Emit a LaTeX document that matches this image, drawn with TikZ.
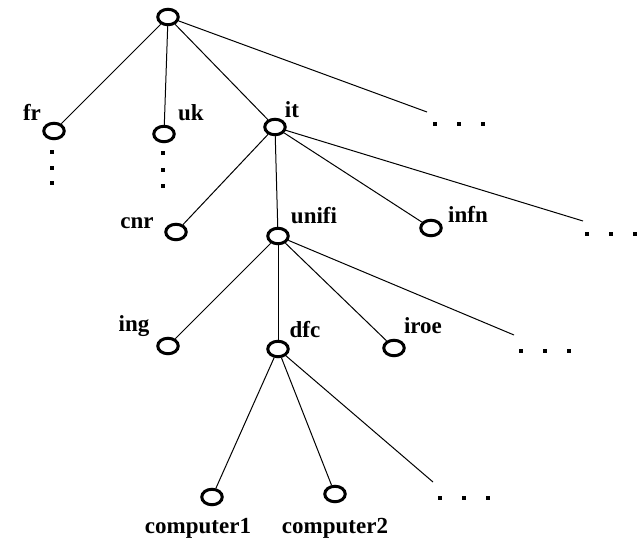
\documentclass[tikz,border=0pt]{standalone}
\usepackage{fontspec}
\setmainfont{Liberation Serif}
\usetikzlibrary{shapes.geometric}
\begin{document}
\begin{tikzpicture}[x=1pt,y=-1pt,
  vertex/.style={draw, ellipse, line width=3pt, minimum width=20.5pt, minimum height=15.5pt, inner sep=0pt},
  lbl/.style={anchor=base, font=\fontsize{23}{25}\selectfont\bfseries, inner sep=0pt},
  edge/.style={line width=1pt},
  dotbox/.style={fill, rectangle, minimum size=3.4pt, inner sep=0pt}]
\useasboundingbox (0,0) rectangle (641,539);
% nodes
\node[vertex] (root) at (168,17) {};
\node[vertex] (fr) at (54,131) {};
\node[vertex] (uk) at (164,134) {};
\node[vertex] (it) at (275,127) {};
\node[vertex] (cnr) at (176,232) {};
\node[vertex] (unifi) at (278,236) {};
\node[vertex] (infn) at (431,228) {};
\node[vertex] (ing) at (168,346) {};
\node[vertex] (dfc) at (278,349) {};
\node[vertex] (iroe) at (394,348) {};
\node[vertex] (c1) at (212,497) {};
\node[vertex] (c2) at (335,494) {};
% labels
\node[lbl] (lfr) at (32,120) {fr};
\node[lbl] (luk) at (191,120) {uk};
\node[lbl] (lit) at (292,117) {it};
\node[lbl] (lcnr) at (137,228) {cnr};
\node[lbl] (lunifi) at (314,223) {unifi};
\node[lbl] (linfn) at (468,222) {infn};
\node[lbl] (ling) at (134,331) {ing};
\node[lbl] (ldfc) at (305,337) {dfc};
\node[lbl] (liroe) at (423,333) {iroe};
\node[lbl] (lc1) at (198,533) {computer1};
\node[lbl] (lc2) at (335,533) {computer2};
% free ends of open branches
\coordinate (e0) at (427,112);
\coordinate (e1) at (583,221);
\coordinate (e2) at (514,335);
\coordinate (e3) at (433,482);
% edges
\draw[edge] (root) -- (fr);
\draw[edge] (root) -- (uk);
\draw[edge] (root) -- (it);
\draw[edge] (root) -- (e0);
\draw[edge] (it) -- (cnr);
\draw[edge] (it) -- (unifi);
\draw[edge] (it) -- (infn);
\draw[edge] (it) -- (e1);
\draw[edge] (unifi) -- (ing);
\draw[edge] (unifi) -- (dfc);
\draw[edge] (unifi) -- (iroe);
\draw[edge] (unifi) -- (e2);
\draw[edge] (dfc) -- (c1);
\draw[edge] (dfc) -- (c2);
\draw[edge] (dfc) -- (e3);
% ellipsis dots
\foreach \x [count=\i] in {435,459,483} \node[dotbox] (d0\i) at (\x,124) {};
\foreach \x [count=\i] in {587,611,635} \node[dotbox] (d1\i) at (\x,234) {};
\foreach \x [count=\i] in {521,545,569} \node[dotbox] (d2\i) at (\x,351) {};
\foreach \x [count=\i] in {440,464,488} \node[dotbox] (d3\i) at (\x,498) {};
\foreach \y [count=\i] in {152,168,183} \node[dotbox] (df\i) at (52,\y) {};
\foreach \y [count=\i] in {153,170,186} \node[dotbox] (du\i) at (163,\y) {};
\end{tikzpicture}
\end{document}
